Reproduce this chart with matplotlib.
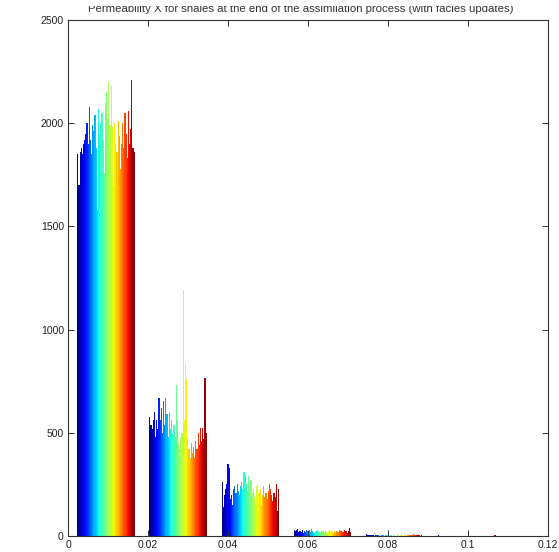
import numpy as np
import matplotlib
matplotlib.use("Agg")
import matplotlib.pyplot as plt
from matplotlib.patches import Rectangle

# bin centres of the histogram (permeability X)
bin_centers = [0.0095, 0.0275, 0.0456, 0.0636, 0.0816, 0.0997]

# counts per ensemble member (50 members) for each bin
counts_bin1 = [1850, 1700, 1860, 1880, 1850, 1900, 1920,
               1950, 2000, 1900, 2080, 1920, 1850, 1990, 1960,
               2040, 1880, 1580, 2070, 1950, 2000, 2050, 1920,
               1760, 2100, 2150, 2020, 2200, 1990, 2180, 1980,
               1700, 2000, 1900, 1860, 2010, 1940, 1780, 1900,
               2000, 1880, 2050, 1950, 1830, 2060, 1900, 1970,
               2210, 1880, 1860]
counts_bin2 = [576, 540, 520, 560, 600, 480, 560,
               520, 667, 560, 620, 500, 654, 540, 667,
               590, 480, 600, 520, 560, 500, 540, 480,
               734, 560, 450, 420, 480, 500, 1190, 560,
               840, 760, 480, 420, 380, 450, 400, 430,
               380, 460, 420, 500, 440, 525, 460, 525,
               470, 767, 500]
counts_bin3 = [260, 140, 200, 230, 250, 350, 330,
               180, 200, 150, 230, 240, 210, 250, 220,
               200, 240, 260, 230, 310, 300, 250, 220,
               290, 240, 270, 210, 230, 190, 160, 240,
               250, 210, 230, 150, 200, 240, 190, 210,
               180, 220, 250, 230, 200, 170, 210, 190,
               250, 120, 230]
counts_bin4 = [30, 25, 28, 32, 20, 22, 18, 30, 15, 25, 20, 28, 22, 30, 18, 35,
               25, 20, 15, 22, 30, 25, 18, 20, 28, 22, 15, 25, 20, 18, 22, 28,
               25, 20, 15, 22, 18, 25, 20, 28, 22, 25, 18, 20, 30, 22, 15, 25,
               40, 20]
counts_bin5 = [8, 5, 6, 3, 4, 7, 5, 2, 3, 4, 6, 3, 2, 5, 4, 3, 2, 4, 3, 5,
               2, 3, 4, 2, 3, 1, 2, 3, 4, 2, 3, 5, 2, 4, 3, 2, 3, 6, 4, 5,
               3, 8, 4, 6, 5, 3, 4, 2, 3, 2]
counts_bin6 = [3, 1, 0, 0, 2, 0, 0, 0, 1, 0, 0, 0, 0, 0, 0, 0, 0, 0, 0, 0,
               0, 0, 0, 0, 0, 0, 0, 0, 0, 0, 0, 0, 0, 0, 0, 0, 0, 0, 0, 0,
               0, 0, 0, 0, 0, 0, 1, 0, 2, 4]

x_ticks = [0, 0.02, 0.04, 0.06, 0.08, 0.1, 0.12]
x_tick_labels = ["0", "0.02", "0.04", "0.06", "0.08", "0.1", "0.12"]
y_ticks = [0, 500, 1000, 1500, 2000, 2500]

title = "Permeability X for shales at the end of the assimilation process (with facies updates)"

counts = np.array([counts_bin1, counts_bin2, counts_bin3,
                   counts_bin4, counts_bin5, counts_bin6])  # (bins, members)
n_bins, n_members = counts.shape

plt.rcParams['font.family'] = ['Liberation Sans', 'DejaVu Sans']

W, H = 559, 552
fig = plt.figure(figsize=(W / 100, H / 100), dpi=100)
ax = fig.add_axes([68 / W, 16 / H, 480 / W, 516 / H])

spacing = bin_centers[1] - bin_centers[0]
group_w = 0.8 * spacing
bar_w = group_w / n_members
cmap = plt.get_cmap('jet')
centers = np.array(bin_centers)
for i in range(n_members):
    xs = centers - group_w / 2 + (i + 0.5) * bar_w
    ax.bar(xs, counts[:, i], width=bar_w, color=cmap(i / (n_members - 1)),
           linewidth=0)

ax.set_xlim(0, 0.12)
ax.set_ylim(0, 2500)
ax.set_xticks(x_ticks)
ax.set_xticklabels(x_tick_labels)
ax.set_yticks(y_ticks)
ax.tick_params(direction='in', top=True, right=True, labelsize=7.5,
               length=4, width=0.7, colors='#333333', labelcolor='#222222', pad=3)
for s in ax.spines.values():
    s.set_linewidth(0.8)
    s.set_color('#333333')

# title (its top is clipped by the frame of the original picture)
fig.text(301 / W, 1 - 12 / H, title, fontsize=8.2, color='#333333',
         ha='center', va='baseline')
fig.add_artist(Rectangle((0, 1 - 5.5 / H), 1, 5.5 / H, transform=fig.transFigure,
                         facecolor='white', edgecolor='none', zorder=10))

fig.savefig("out.png", dpi=100)
